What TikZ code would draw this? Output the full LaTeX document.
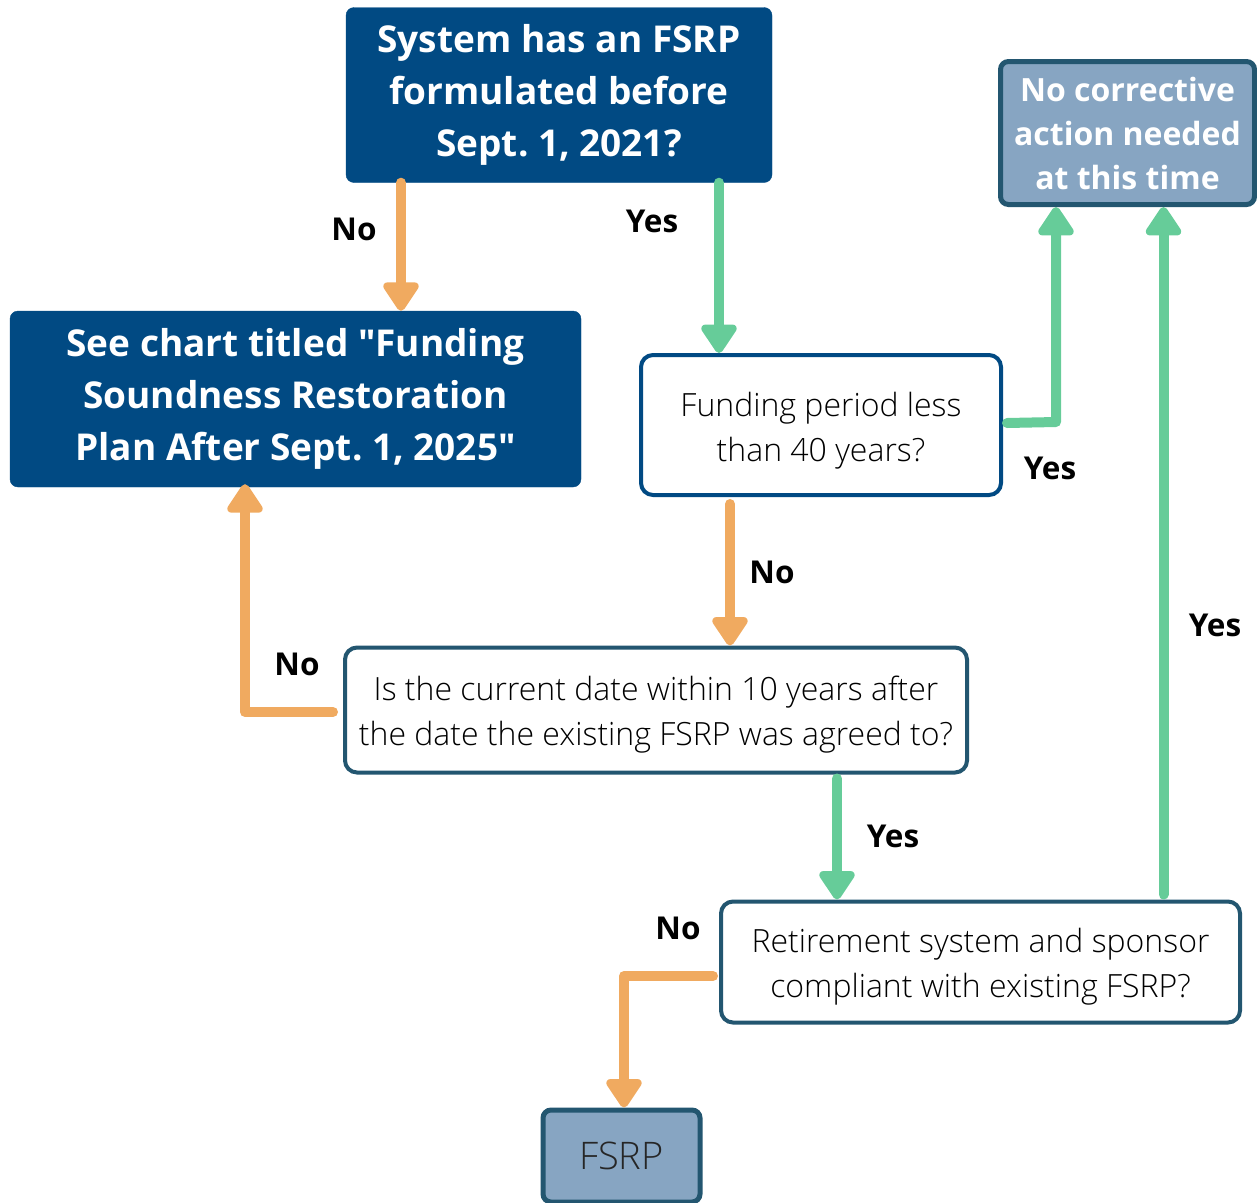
\documentclass[tikz,border=0pt]{standalone}
\usepackage{fontspec}
\setmainfont{Open Sans}[Ligatures=TeXOff]
\IfFontExistsTF{Open Sans Light}{\newfontfamily\lightf{Open Sans Light}}{\newfontfamily\lightf{Open Sans}}
\usetikzlibrary{arrows.meta}
\definecolor{dblue}{RGB}{1,74,131}
\definecolor{lblue}{RGB}{135,165,194}
\definecolor{teal}{RGB}{35,86,112}
\definecolor{grn}{RGB}{102,204,153}
\definecolor{org}{RGB}{240,170,96}
\tikzset{
  darkbox/.style={fill=dblue,draw=dblue,rounded corners=8pt,text=white,align=center,
    font=\fontsize{37}{52}\selectfont\bfseries,inner sep=0pt},
  lightbox/.style={fill=lblue,draw=teal,line width=5pt,rounded corners=8pt,align=center,inner sep=0pt},
  whitebox/.style={fill=white,draw=teal,line width=4pt,rounded corners=12pt,inner sep=0pt},
  boxtext/.style={align=center,inner sep=0pt,font=\lightf\fontsize{32}{45}\selectfont,yshift=-4.5pt},
  lbl/.style={font=\fontsize{31.5}{34}\selectfont\bfseries},
  arr/.style={line width=10pt,line cap=round,line join=round,-{Triangle[width=40pt,length=32pt,round]}},
  noarr/.style={arr,draw=org},
  yesarr/.style={arr,draw=grn},
}
\begin{document}
\begin{tikzpicture}[x=1pt,y=-1pt]
\useasboundingbox (0,0) rectangle (1257,1202);
\node[darkbox,minimum width=426pt,minimum height=175pt] (A) at (559,95)
  {System has an FSRP\\formulated before\\Sept.\ 1, 2021?};
\node[darkbox,minimum width=571pt,minimum height=176pt] (B) at (295.5,399)
  {See chart titled "Funding\\Soundness Restoration\\Plan After Sept.\ 1, 2025"};
\node[whitebox,draw=dblue,minimum width=360pt,minimum height=140pt,
  label={[name=Ct,boxtext,yshift=-1pt]center:{Funding period less\\than 40 years?}}] (C) at (821,425) {};
\node[lightbox,text=white,font=\fontsize{32}{44}\selectfont\bfseries,minimum width=254pt,minimum height=143pt] (D) at (1127.5,133)
  {No corrective\\action needed\\at this time};
\node[whitebox,minimum width=622pt,minimum height=125pt,
  label={[name=Et,boxtext]center:{Is the current date within 10 years after\\the date the existing FSRP was agreed to?}}] (E) at (656,710) {};
\node[whitebox,minimum width=519pt,minimum height=121pt,
  label={[name=Ft,boxtext]center:{Retirement system and sponsor\\compliant with existing FSRP?}}] (F) at (980.5,962) {};
\node[lightbox,font=\lightf\fontsize{38}{40}\selectfont,text=black!85,minimum width=157pt,minimum height=92pt] (G) at (621.5,1156)
  {FSRP};

% A -> B (No)
\draw[noarr] ([xshift=-158pt]A.south) -- ([xshift=-158pt]A.south |- B.north);
\node[lbl] (l1) at (354,229) {No};
% A -> C (Yes)
\draw[yesarr] ([xshift=160pt]A.south) -- ([xshift=160pt]A.south |- C.north);
\node[lbl] (l2) at (652,221) {Yes};
% C -> D (Yes)
\coordinate (c1) at (1056,422);
\draw[yesarr] ([xshift=4pt]C.east |- 0,423) -- (c1) -- (c1 |- D.south);
\node[lbl] (l3) at (1050,468) {Yes};
% C -> E (No)
\draw[noarr] ([xshift=-91pt,yshift=-7pt]C.south) -- ([xshift=-91pt]C.south |- E.north);
\node[lbl] (l4) at (772,572) {No};
% E -> B (No)
\coordinate (c2) at (245,712);
\draw[noarr] ([xshift=-10pt]E.west |- c2) -- (c2) -- ([yshift=3pt]c2 |- B.south);
\node[lbl] (l5) at (297,664) {No};
% E -> F (Yes)
\draw[yesarr] ([xshift=181pt,yshift=-4pt]E.south) -- ([xshift=181pt]E.south |- F.north);
\node[lbl] (l6) at (893,836) {Yes};
% F -> D (Yes)
\draw[yesarr] ([xshift=183pt,yshift=5pt]F.north) -- ([xshift=183pt]F.north |- D.south);
\node[lbl] (l7) at (1215,625) {Yes};
% F -> G (No)
\coordinate (c3) at (624,976);
\draw[noarr] ([xshift=-6pt]F.west |- c3) -- (c3) -- (c3 |- G.north);
\node[lbl] (l8) at (678,928) {No};
\end{tikzpicture}
\end{document}
